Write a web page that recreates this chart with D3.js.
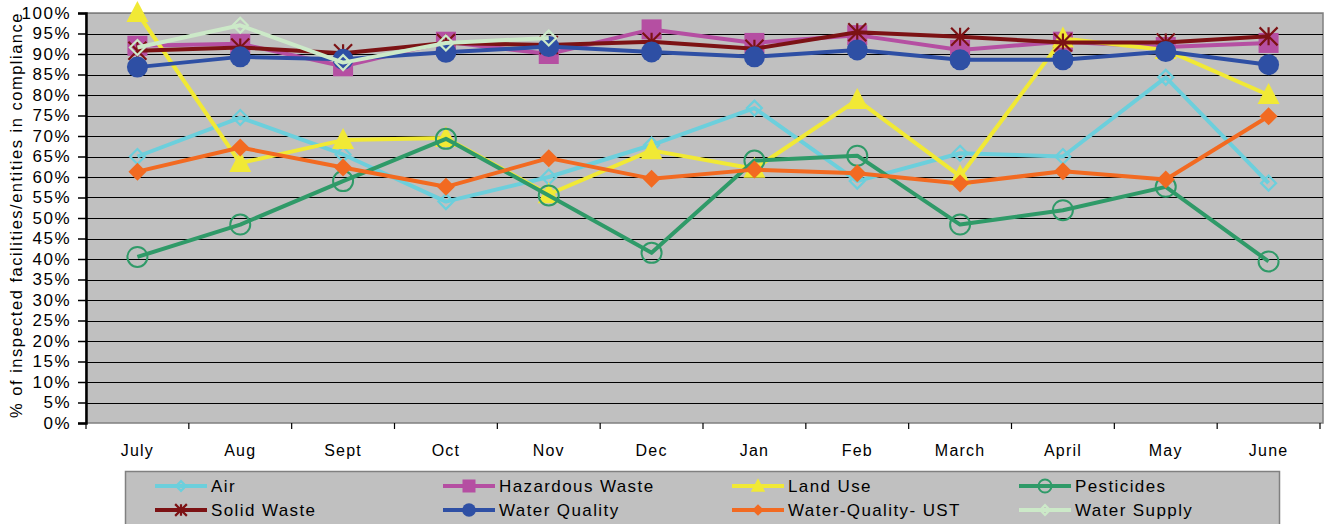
<!DOCTYPE html>
<html>
<head>
<meta charset="utf-8">
<script src="https://cdn.jsdelivr.net/npm/d3@7"></script>
<style>
  body { margin: 0; background: #fff; }
  text { font-family: "Liberation Sans", Arial, sans-serif; }
</style>
</head>
<body>
<div id="chart"></div>
<script>
// Data
const months = ["July", "Aug", "Sept", "Oct", "Nov", "Dec", "Jan", "Feb", "March", "April", "May", "June"];
const yTicks = [0, 5, 10, 15, 20, 25, 30, 35, 40, 45, 50, 55, 60, 65, 70, 75, 80, 85, 90, 95, 100];

const air = [65, 74.5, 65.5, 54, 60, 67.8, 76.8, 59, 65.8, 65, 84.3, 58.5];
const hazardousWaste = [92, 92.5, 87, 93, 90, 96, 92.7, 94.6, 91, 93, 91.7, 92.7];
const landUse = [100, 63.4, 69, 69.5, 55.8, 66.5, 62, 78.8, 60.2, 93.8, 91, 80];
const pesticides = [40.5, 48.4, 59, 69.3, 55.5, 41.5, 64, 65.2, 48.4, 51.9, 57.6, 39.4];
const solidWaste = [90.8, 91.6, 90.2, 92.7, 92.2, 93, 91.3, 95.3, 94.2, 92.8, 92.8, 94.3];
const waterQuality = [86.8, 89.3, 88.7, 90.4, 91.8, 90.5, 89.3, 91, 88.6, 88.6, 90.6, 87.4];
const waterQualityUST = [61.3, 67.2, 62.3, 57.6, 64.6, 59.6, 61.8, 60.9, 58.4, 61.4, 59.4, 74.8];
const waterSupply = [91.6, 97, 87.9, 92.7, 93.9, null, null, null, null, null, null, null];

const series = [
    {name: "Air", values: air, color: "#6ccfdc", marker: "diamondOpen"},
    {name: "Hazardous Waste", values: hazardousWaste, color: "#b54fa2", marker: "square"},
    {name: "Land Use", values: landUse, color: "#f1e935", marker: "triangle"},
    {name: "Pesticides", values: pesticides, color: "#2f9a68", marker: "circleOpen"},
    {name: "Solid Waste", values: solidWaste, color: "#7c1214", marker: "star"},
    {name: "Water Quality", values: waterQuality, color: "#2e4fa4", marker: "circle"},
    {name: "Water-Quality- UST", values: waterQualityUST, color: "#f26a21", marker: "diamond"},
    {name: "Water Supply", values: waterSupply, color: "#cce9c8", marker: "diamondOpen"}
];

// Dimensions
const W = 1324, H = 524;
const margin = {top: 13, right: 4, bottom: 101, left: 86};
const width = 1320 - margin.left;
const height = H - margin.top - margin.bottom;

const svg = d3.select("#chart")
    .append("svg")
    .attr("width", W)
    .attr("height", H);

const g = svg.append("g")
    .attr("transform", `translate(${margin.left},${margin.top})`);

// Scales
const x = d3.scaleBand()
    .domain(months)
    .range([0, width]);

const y = d3.scaleLinear()
    .domain([0, 100])
    .range([height, 0]);

// Plot background
g.append("rect")
    .attr("x", 0)
    .attr("y", 0)
    .attr("width", W - margin.left - 1)
    .attr("height", height)
    .attr("fill", "#c0c0c0")
    .attr("stroke", "#808080")
    .attr("stroke-width", 1.5);

// Gridlines
g.selectAll(".grid")
    .data(yTicks.slice(1))
    .enter()
    .append("line")
    .attr("x1", 0)
    .attr("x2", W - margin.left - 1)
    .attr("y1", d => Math.round(y(d)) + 0.5)
    .attr("y2", d => Math.round(y(d)) + 0.5)
    .attr("stroke", d => d === 100 ? "#808080" : "#000")
    .attr("stroke-width", 1);

// Y axis
const yAxis = d3.axisLeft(y)
    .tickValues(yTicks)
    .tickFormat(d => d + "%")
    .tickSize(8)
    .tickPadding(7);

const yg = g.append("g").call(yAxis);
yg.select(".domain").attr("stroke-width", 2.5);
yg.selectAll(".tick line").attr("stroke-width", 1.5);
yg.selectAll("text")
    .style("font-size", "17px")
    .style("letter-spacing", "1.5px")
    .attr("fill", "#000");

// X axis
const xAxis = d3.axisBottom(x)
    .tickSize(0)
    .tickPadding(22);

const xg = g.append("g")
    .attr("transform", `translate(0,${height})`)
    .call(xAxis);
xg.select(".domain").remove();
xg.selectAll("text")
    .style("font-size", "16px")
    .style("letter-spacing", "1.2px")
    .attr("fill", "#000");

// x tick marks at band boundaries
g.selectAll(".xtick")
    .data(months)
    .enter()
    .append("line")
    .attr("x1", d => x(d) + x.bandwidth())
    .attr("x2", d => x(d) + x.bandwidth())
    .attr("y1", height)
    .attr("y2", height + 6)
    .attr("stroke", "#000")
    .attr("stroke-width", 1.2);
g.append("line")
    .attr("x1", 0).attr("x2", 0)
    .attr("y1", height).attr("y2", height + 6)
    .attr("stroke", "#000").attr("stroke-width", 1.2);

// Y axis label
svg.append("text")
    .attr("transform", "rotate(-90)")
    .attr("x", -(margin.top + height / 2 - 3))
    .attr("y", 22)
    .style("text-anchor", "middle")
    .style("font-size", "16.5px")
    .style("letter-spacing", "1.5px")
    .text("% of inspected facilities/entities in compliance");

// Marker drawing
function drawMarker(sel, type, color, s) {
    if (type === "square") {
        sel.append("rect")
            .attr("x", -s / 2).attr("y", -s / 2)
            .attr("width", s).attr("height", s)
            .attr("fill", color);
    } else if (type === "circle") {
        sel.append("circle").attr("r", s / 2).attr("fill", color);
    } else if (type === "circleOpen") {
        sel.append("circle").attr("r", s / 2)
            .attr("fill", "none").attr("stroke", color).attr("stroke-width", 2);
    } else if (type === "triangle") {
        sel.append("path")
            .attr("d", `M0,${-s * 0.6}L${s * 0.55},${s * 0.45}L${-s * 0.55},${s * 0.45}Z`)
            .attr("fill", color);
    } else if (type === "diamond") {
        sel.append("path")
            .attr("d", `M0,${-s / 2}L${s / 2},0L0,${s / 2}L${-s / 2},0Z`)
            .attr("fill", color);
    } else if (type === "diamondOpen") {
        sel.append("path")
            .attr("d", `M0,${-s / 2}L${s / 2},0L0,${s / 2}L${-s / 2},0Z`)
            .attr("fill", "none").attr("stroke", color).attr("stroke-width", 2.2);
    } else if (type === "star") {
        const r = s / 2;
        sel.append("path")
            .attr("d", `M0,${-r}L0,${r}M${-r},${-r}L${r},${r}M${r},${-r}L${-r},${r}`)
            .attr("stroke", color).attr("stroke-width", 2.2);
    }
}

const markerSize = {square: 20, circle: 21, circleOpen: 20, triangle: 20, diamond: 18, diamondOpen: 15, star: 18};

const line = d3.line()
    .defined(d => d.v !== null)
    .x(d => x(d.m) + x.bandwidth() / 2)
    .y(d => y(d.v));

series.forEach(s => {
    const pts = s.values.map((v, i) => ({m: months[i], v: v}));
    g.append("path")
        .datum(pts)
        .attr("fill", "none")
        .attr("stroke", s.color)
        .attr("stroke-width", 4)
        .attr("stroke-linejoin", "round")
        .attr("d", line);

    pts.filter(d => d.v !== null).forEach(d => {
        const mg = g.append("g")
            .attr("transform", `translate(${x(d.m) + x.bandwidth() / 2},${y(d.v)})`);
        drawMarker(mg, s.marker, s.color, markerSize[s.marker]);
    });
});

// Legend
const legend = svg.append("g");
legend.append("rect")
    .attr("x", 125.5)
    .attr("y", 471.5)
    .attr("width", 1154)
    .attr("height", 60)
    .attr("fill", "#c0c0c0")
    .attr("stroke", "#808080")
    .attr("stroke-width", 1.5);

const colX = [155, 443, 732, 1019];
const rowY = [486, 510];

series.forEach((s, i) => {
    const cx = colX[i % 4];
    const cy = rowY[Math.floor(i / 4)];
    legend.append("line")
        .attr("x1", cx).attr("x2", cx + 52)
        .attr("y1", cy).attr("y2", cy)
        .attr("stroke", s.color)
        .attr("stroke-width", 4);
    const mg = legend.append("g").attr("transform", `translate(${cx + 26},${cy})`);
    drawMarker(mg, s.marker, s.color, markerSize[s.marker] * 0.65);
    legend.append("text")
        .attr("x", cx + 56)
        .attr("y", cy)
        .attr("dy", "0.35em")
        .style("font-size", "17px")
        .style("letter-spacing", "1.4px")
        .text(s.name);
});
</script>
</body>
</html>
